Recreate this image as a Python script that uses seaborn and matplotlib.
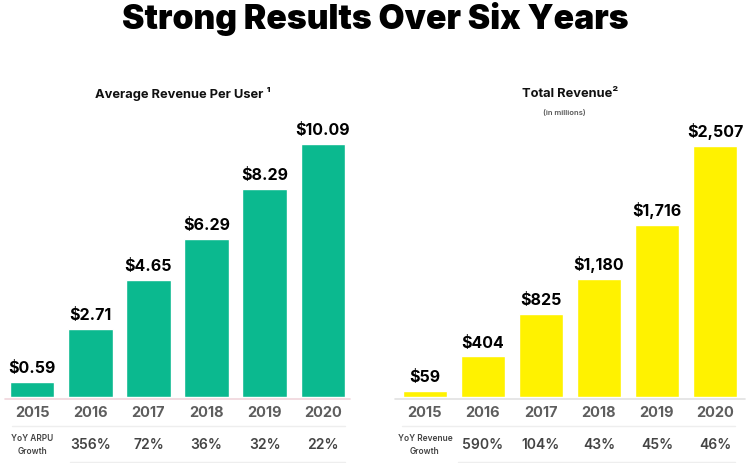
import matplotlib
matplotlib.use("Agg")
import matplotlib.pyplot as plt
import seaborn as sns
import pandas as pd
from matplotlib.lines import Line2D

years = ["2015", "2016", "2017", "2018", "2019", "2020"]
arpu = [0.59, 2.71, 4.65, 6.29, 8.29, 10.09]
arpu_labels = ["$0.59", "$2.71", "$4.65", "$6.29", "$8.29", "$10.09"]
arpu_growth = ["", "356%", "72%", "36%", "32%", "22%"]
revenue = [59, 404, 825, 1180, 1716, 2507]
revenue_labels = ["$59", "$404", "$825", "$1,180", "$1,716", "$2,507"]
revenue_growth = ["", "590%", "104%", "43%", "45%", "46%"]

sns.set_theme(style="white")
plt.rcParams['font.family'] = ['Inter', 'DejaVu Sans']

W, H = 750, 464
fig = plt.figure(figsize=(7.5, 4.64), dpi=100)

def px_axes(x0, x1, ytop, ybot):
    return fig.add_axes([x0 / W, (H - ybot) / H, (x1 - x0) / W, (ybot - ytop) / H])

GREEN = "#0bb98f"
YELLOW = "#fff200"

def panel(ax, vals, labels, growth, color, ymax, growth_title):
    df = pd.DataFrame({"year": years, "val": vals})
    sns.barplot(data=df, x="year", y="val", color=color, width=0.77,
                saturation=1, ax=ax)
    ax.set_xlim(-0.5, 5.5)
    ax.set_ylim(0, ymax)
    ax.set_xlabel("")
    ax.set_ylabel("")
    ax.set_yticks([])
    for s in ax.spines.values():
        s.set_visible(False)
    ax.tick_params(axis="x", length=0, pad=6)
    ax.set_xticks(range(6))
    ax.set_xticklabels(years, fontsize=10.5, fontweight="bold", color="#5e5e5e")
    for i, (v, lab) in enumerate(zip(vals, labels)):
        ax.annotate(lab, (i, v), xytext=(0, 5), textcoords="offset points",
                    ha="center", va="bottom", fontsize=11.5, fontweight="bold",
                    color="black")
    for i, g in enumerate(growth):
        if g:
            ax.text(i, -0.175, g, transform=ax.get_xaxis_transform(),
                    ha="center", va="center", fontsize=10, fontweight="semibold",
                    color="#444444")
    ax.text(0, -0.175, growth_title, transform=ax.get_xaxis_transform(),
            ha="center", va="center", fontsize=6, fontweight="semibold",
            color="#444444", linespacing=1.6)

ax1 = px_axes(3, 352, 130, 398)
panel(ax1, arpu, arpu_labels, arpu_growth, GREEN, 268 / 25.1, "YoY ARPU\nGrowth")
ax2 = px_axes(396, 744, 130, 398)
panel(ax2, revenue, revenue_labels, revenue_growth, YELLOW, 268 / 0.1003,
      "YoY Revenue\nGrowth")

def hline(x0, x1, y, color, lw=1.0):
    fig.add_artist(Line2D([x0 / W, x1 / W], [(H - y) / H, (H - y) / H],
                          color=color, lw=lw, transform=fig.transFigure))

hline(5, 350, 400, "#f0d6dc", 1.2)
hline(12, 345, 427, "#eeeeee", 1.0)
hline(70, 345, 463, "#eeeeee", 1.0)
hline(395, 745, 400, "#e2e2e2", 1.2)
hline(402, 735, 427, "#eeeeee", 1.0)
hline(458, 735, 463, "#eeeeee", 1.0)

fig.text(375 / W, 1 - 19 / H, "Strong Results Over Six Years", ha="center",
         va="center", fontsize=24.3, fontweight="black", color="black")
fig.text(183 / W, 1 - 94 / H, "Average Revenue Per User \u00b9", ha="center",
         va="center", fontsize=9.3, fontweight="bold", color="#111111")
fig.text(570 / W, 1 - 94 / H, "Total Revenue\u00b2", ha="center", va="center",
         fontsize=9.3, fontweight="bold", color="#111111")
fig.text(564 / W, 1 - 113 / H, "(in millions)", ha="center", va="center",
         fontsize=5.5, fontweight="semibold", color="#555555")

fig.savefig("out.png", dpi=100)
